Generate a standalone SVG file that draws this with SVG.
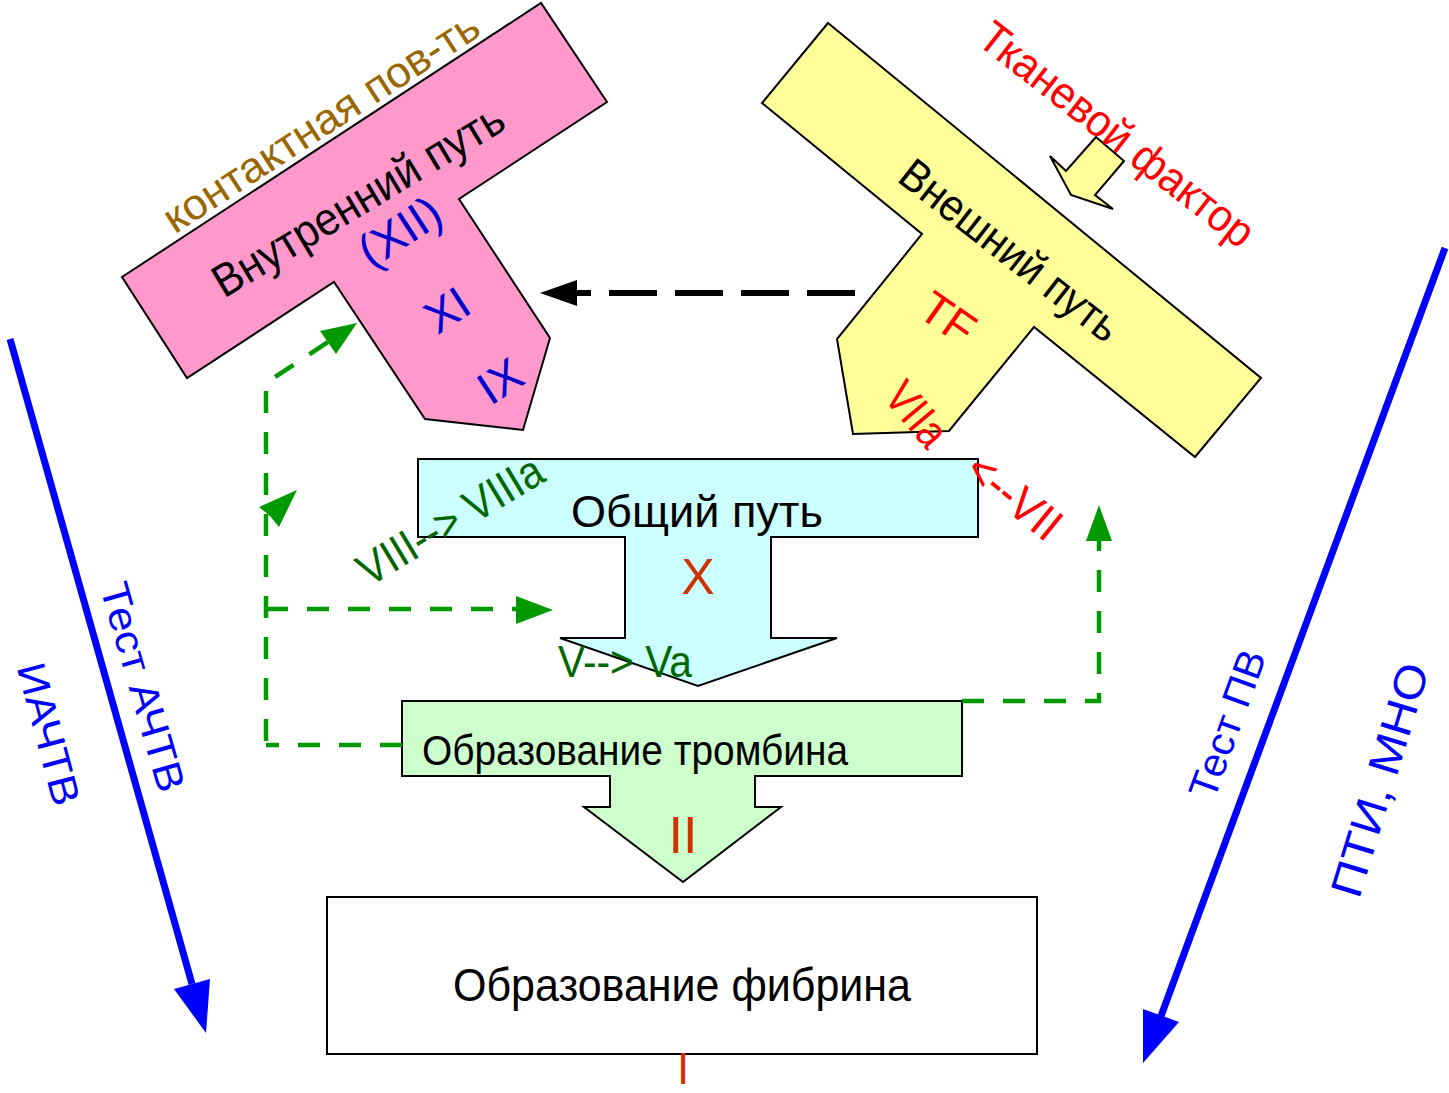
<svg xmlns="http://www.w3.org/2000/svg" width="1449" height="1093" viewBox="0 0 1449 1093">
<style>
text{font-family:"Liberation Sans",Arial,sans-serif;}
.shape{stroke:#000;stroke-width:2;stroke-linejoin:miter;}
.gdash{fill:none;stroke:#009900;stroke-width:4.5;stroke-dasharray:22 19;}
.blk{fill:#000;}
.red{fill:#ff0000;}
.grn{fill:#006600;}
.blu{fill:#0000ff;}
.dblu{fill:#0000cc;}
.rust{fill:#cc3300;}
</style>
<rect width="1449" height="1093" fill="#fff"/>

<g id="intrinsic">
<polygon class="shape" fill="#ff99cc" points="122,277 541,3 607,102 459,199 550,338 523,430 425,419 334,282 187,378"/>
<text class="blk" font-size="46" text-anchor="middle" textLength="332" lengthAdjust="spacingAndGlyphs" transform="translate(360,203) rotate(-31)" y="12">Внутренний путь</text>
<text class="dblu" font-size="47" text-anchor="middle" transform="translate(402,235) rotate(-33)" y="12">(XII)</text>
<text class="dblu" font-size="46" text-anchor="middle" transform="translate(447,310) rotate(-33)" y="16">XI</text>
<text class="dblu" font-size="46" text-anchor="middle" transform="translate(500,381) rotate(-33)" y="16">IX</text>
</g>

<g id="contact-label">
<text fill="#996600" font-size="43" text-anchor="middle" textLength="368" lengthAdjust="spacingAndGlyphs" transform="translate(323,125) rotate(-33)" y="11">контактная пов-ть</text>
</g>

<g id="extrinsic">
<polygon class="shape" fill="#ffff99" points="828,23 1261,378 1195,457 1034,327 949,431 853,434 837,339 922,234 762,103"/>
<text class="blk" font-size="45" text-anchor="middle" textLength="266" lengthAdjust="spacingAndGlyphs" transform="translate(1008,253) rotate(38)" y="12">Внешний путь</text>
<text class="red" font-size="46" text-anchor="middle" transform="translate(948,318) rotate(35)" y="16">TF</text>
</g>

<g id="tissue-factor">
<polygon class="shape" fill="#ffff99" stroke-width="1.5" points="1096,137 1124,161 1095,195 1113,209 1071,195 1050,156 1066,171"/>
<text class="red" font-size="45" text-anchor="middle" textLength="336" lengthAdjust="spacingAndGlyphs" transform="translate(1115,137) rotate(38)" y="12">Тканевой фактор</text>
</g>

<g id="common">
<polygon class="shape" fill="#ccffff" points="418,459 978,459 978,537 771,537 771,638 837,638 698,686 560,638 625,638 625,537 418,537"/>
<text class="blk" font-size="44" text-anchor="middle" textLength="252" lengthAdjust="spacingAndGlyphs" x="697" y="527">Общий путь</text>
<text class="rust" font-size="50" text-anchor="middle" x="698" y="594">X</text>
</g>

<g id="thrombin">
<polygon class="shape" fill="#ccffcc" points="402,701 962,701 962,776 755,776 755,807 781,807 683,882 584,807 610,807 610,776 402,776"/>
<text class="blk" font-size="43" textLength="426" lengthAdjust="spacingAndGlyphs" x="422" y="765">Образование тромбина</text>
<text class="rust" font-size="52" text-anchor="middle" x="683" y="853">II</text>
</g>

<g id="fibrin">
<rect class="shape" fill="#ffffff" x="327" y="897" width="710" height="157"/>
<text class="blk" font-size="47" textLength="458" lengthAdjust="spacingAndGlyphs" x="453" y="1001">Образование фибрина</text>
<text class="rust" font-size="44" text-anchor="middle" x="683" y="1084">I</text>
</g>

<g id="connectors">
<path d="M855,293 H577" fill="none" stroke="#000" stroke-width="6" stroke-dasharray="48 18"/>
<polygon fill="#000" points="540,293 577,280 577,306"/>

<path class="gdash" d="M402,745 H266"/>
<path class="gdash" stroke-dashoffset="37" d="M266,745 V383 L328,342"/>
<polygon fill="#009900" points="357,323 320,331 336,354"/>
<path class="gdash" d="M266,609 H516"/>
<polygon fill="#009900" points="553,610 516,596 516,624"/>
<polygon fill="#009900" points="297,490 259,507 270,516 279,527"/>
<path class="gdash" d="M962,701 H1099 V540"/>
<polygon fill="#009900" points="1099,505 1086,541 1112,541"/>

<line x1="10" y1="339" x2="192" y2="984" stroke="#0000ff" stroke-width="7"/>
<polygon fill="#0000ff" points="206,1033 174,989 210,979"/>
<line x1="1445" y1="248" x2="1161" y2="1016" stroke="#0000ff" stroke-width="7"/>
<polygon fill="#0000ff" points="1143,1063 1143,1009 1179,1022"/>
</g>

<g id="labels">
<text class="grn" font-size="46" text-anchor="middle" textLength="208" lengthAdjust="spacingAndGlyphs" transform="translate(450,520) rotate(-31)" y="16">VIII--&gt; VIIIa</text>
<text class="grn" font-size="44" textLength="134" lengthAdjust="spacingAndGlyphs" x="558" y="677">V--&gt; Va</text>
<text class="red" font-size="46" text-anchor="middle" textLength="70" lengthAdjust="spacingAndGlyphs" transform="translate(917,414) rotate(50)" y="16">VIIa</text>
<text class="red" font-size="47" text-anchor="middle" textLength="108" lengthAdjust="spacingAndGlyphs" transform="translate(1015,496) rotate(39)" y="17">&lt;--VII</text>
<text class="blu" font-size="40" text-anchor="middle" textLength="216" lengthAdjust="spacingAndGlyphs" transform="translate(143,687) rotate(74)" y="14">Тест АЧТВ</text>
<text class="blu" font-size="40" text-anchor="middle" textLength="146" lengthAdjust="spacingAndGlyphs" transform="translate(49,734) rotate(75)" y="14">ИАЧТВ</text>
<text class="blu" font-size="40" text-anchor="middle" textLength="155" lengthAdjust="spacingAndGlyphs" transform="translate(1227,724) rotate(-70)" y="14">Тест ПВ</text>
<text class="blu" font-size="44" text-anchor="middle" textLength="242" lengthAdjust="spacingAndGlyphs" transform="translate(1380,780) rotate(-73)" y="15">ПТИ, МНО</text>
</g>
</svg>
